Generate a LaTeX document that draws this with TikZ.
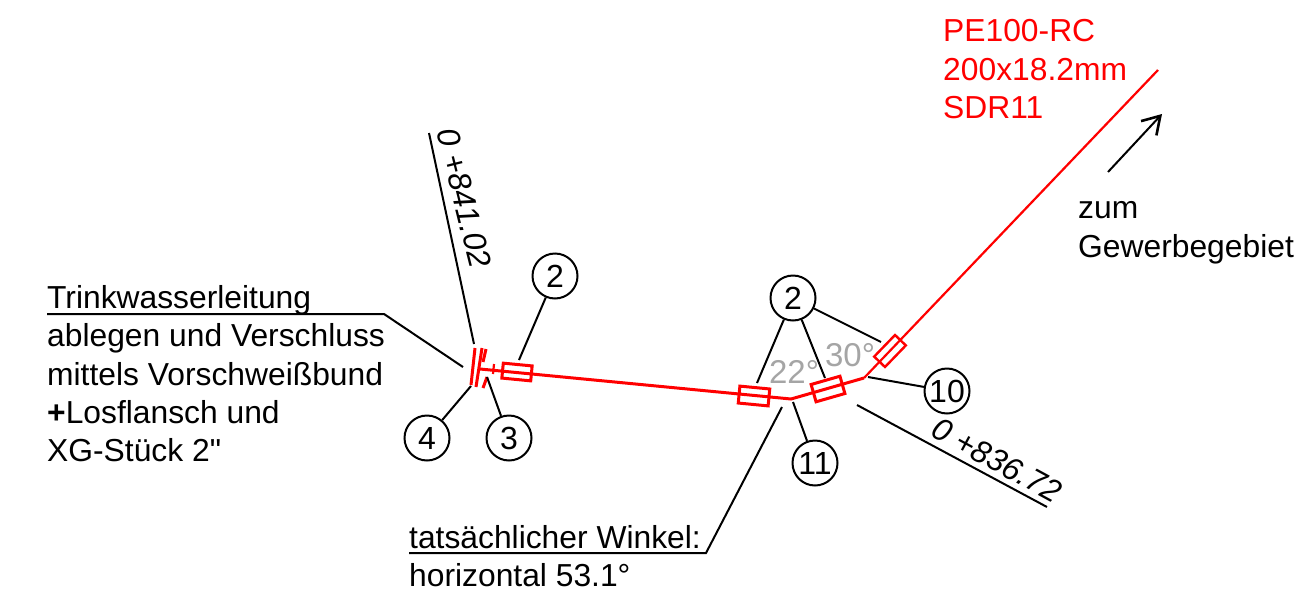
\documentclass[tikz,border=0pt]{standalone}
\usepackage{fontspec}
\setmainfont{Liberation Sans}[Ligatures=TeXOff]
\usetikzlibrary{arrows.meta}
\definecolor{pipered}{RGB}{255,0,0}
\definecolor{anglegray}{RGB}{165,165,165}
\tikzset{
  x=1pt,y=-1pt,
  lead/.style={draw=black,line width=2pt},
  pipe/.style={draw=pipered,line width=3pt},
  pipethin/.style={draw=pipered,line width=2.2pt},
  callout/.style={circle,draw=black,line width=2pt,minimum size=45pt,inner sep=0pt,font=\fontsize{32}{32}\selectfont},
  sleeve/.style={draw=pipered,line width=3pt,minimum width=30pt,minimum height=14pt,inner sep=0pt},
  lbl/.style={font=\fontsize{31.8}{38.5}\selectfont,anchor=base west,inner sep=0pt},
  redlbl/.style={lbl,text=pipered},
  ang/.style={font=\fontsize{33}{33}\selectfont,text=anglegray,inner sep=0pt},
  chain/.style={font=\fontsize{31.8}{31.8}\selectfont\itshape,inner sep=0pt},
}
\begin{document}
\begin{tikzpicture}
\useasboundingbox (0,0) rectangle (1296,592);
% callouts
\node[callout] (c2a) at (555,276) {2};
\node[callout] (c4) at (427,438) {4};
\node[callout] (c3) at (509,438) {3};
\node[callout] (c2b) at (793,298) {2};
\node[callout] (c10) at (947,391) {10};
\node[callout] (c11) at (815,463) {11};
% pipe points
\coordinate (pstart) at (480,369);
\coordinate (b1) at (791,399);
\coordinate (b2) at (864,378);
\coordinate (pend) at (1158,70);
% sleeves
\node[sleeve,rotate=-5.5,minimum width=29pt,minimum height=15pt] (s1) at (517,372) {};
\node[sleeve,rotate=-5.5,minimum height=17pt] (s2) at (754,396) {};
\node[sleeve,rotate=16,minimum width=30pt,minimum height=18pt] (s3) at (828,389) {};
\node[sleeve,rotate=46,line width=2.4pt,minimum height=15pt] (s4) at (890,351) {};
\draw[pipe] (pstart) -- (b1) -- (b2);
\draw[pipethin] (b2) -- (pend);
% flange
\draw[pipe] (475,348) -- (471,385);
\draw[pipe] (482,348) -- (476,387);
\draw[pipe] (486,349) -- (483,362);
\draw[pipe] (487,377) -- (483,388);
\draw[pipethin] (494,364) -- (493,374);
% leaders
\coordinate (l2a) at (519,360);
\draw[lead] (c2a) -- (l2a);
\coordinate (l4) at (471,386);
\draw[lead] (c4) -- (l4);
\coordinate (l3) at (487,377);
\draw[lead] (c3) -- (l3);
\coordinate (l2b1) at (757,383);
\draw[lead] (c2b) -- (l2b1);
\coordinate (l2b2) at (825,378);
\draw[lead] (c2b) -- (l2b2);
\coordinate (l2b3) at (881,342);
\draw[lead] (c2b) -- (l2b3);
\coordinate (l10) at (868,377);
\draw[lead] (c10) -- (l10);
\coordinate (l11) at (793,402);
\draw[lead] (c11) -- (l11);
% texts
\node[ang] (a22) at (794,372) {22°};
\node[ang] (a30) at (850,355) {30°};
\node[redlbl] (t1) at (943,41) {PE100-RC};
\node[redlbl] (t2) at (943,80) {200x18.2mm};
\node[redlbl] (t3) at (943,118) {SDR11};
\node[lbl] (g1) at (1078,218) {zum};
\node[lbl] (g2) at (1078,257) {Gewerbegebiet};
\node[lbl] (w1) at (47,308) {Trinkwasserleitung};
\node[lbl] (w2) at (47,346) {ablegen und Verschluss};
\node[lbl] (w3) at (47,385) {mittels Vorschweißbund};
\node[lbl] (w4) at (47,423) {{\bfseries +}Losflansch und};
\node[lbl] (w5) at (47,461) {XG-Stück 2"};
\node[lbl] (h1) at (409,548) {tatsächlicher Winkel:};
\node[lbl] (h2) at (409,586) {horizontal 53.1°};
% text leaders
\coordinate (wa) at (47,314);
\coordinate (wb) at (384,314);
\coordinate (wc) at (463,367);
\draw[lead] (wa) -- (wb) -- (wc);
\coordinate (ha) at (409,553);
\coordinate (hb) at (706,553);
\coordinate (hc) at (782,407);
\draw[lead] (ha) -- (hb) -- (hc);
% chainages
\coordinate (d1a) at (429,133);
\coordinate (d1b) at (474,344);
\draw[lead] (d1a) -- (d1b);
\node[chain,rotate=-76] (d1t) at (464,198) {0 +841.02};
\coordinate (d2a) at (857,405);
\coordinate (d2b) at (1047,507);
\draw[lead] (d2a) -- (d2b);
\node[chain,rotate=-28.5] (d2t) at (997,460) {0 +836.72};
% direction arrow
\coordinate (aa) at (1108,172);
\coordinate (ab) at (1162,114);
\draw[lead,-{Straight Barb[length=17pt,width=21pt,line width=2.6pt]}] (aa) -- (ab);
\end{tikzpicture}
\end{document}
